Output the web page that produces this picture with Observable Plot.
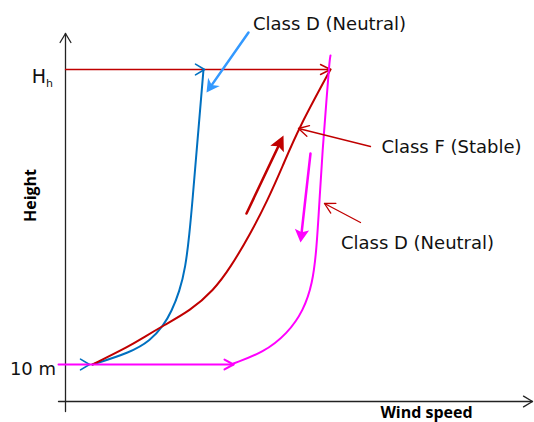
<!DOCTYPE html>
<html>
<head>
<meta charset="utf-8">
<script src="https://cdn.jsdelivr.net/npm/d3@7"></script>
<script src="https://cdn.jsdelivr.net/npm/@observablehq/plot@0.6"></script>
<style>
  html, body { margin: 0; padding: 0; background: #fff; }
  #chart { width: 534px; height: 422px; }
</style>
</head>
<body>
<div id="chart"></div>
<script>
// ---------------- DATA (wind speed / height in schematic units, origin at the axes' corner) ----------------
const H_HUB = 332;          // hub height level "H_h"
const H_10 = 37;            // 10 m reference level

// Class D (Neutral) profile, blue
const blueWind   = [27, 27, 65, 85, 98, 106, 114, 120, 124, 127, 132, 138, 138];
const blueHeight = [37, 37, 49, 61, 76, 90, 110, 134, 168, 201, 261, 332, 332];

// Class F (Stable) profile, dark red
const redWind   = [27, 27, 65, 78, 98, 125, 148, 165, 185, 202, 217, 233, 265, 265];
const redHeight = [37, 37, 56, 64, 76, 91, 111, 134, 168, 201, 235, 273, 332, 332];

// Class D (Neutral) profile, magenta
const magWind   = [168, 168, 198, 222, 238, 247, 251, 254, 257, 261, 264, 265, 265];
const magHeight = [38, 38, 49, 68, 91, 118, 151, 201, 251, 301, 341, 346, 346];

// Arrows: [x1, y1, x2, y2]
const axisArrows      = [[0, -10, 0, 368], [-7, 0, 467, 0]];
const hubLineArrow    = [[0, H_HUB, 265, H_HUB]];
const tenLineArrow    = [[-7, H_10, 168, H_10]];
const blueLevelHeads  = [[124, H_HUB, 139, H_HUB], [9, H_10, 24, H_10]];
const redTrendArrow   = [[181, 188, 218, 266]];
const magTrendArrow   = [[245, 248, 235, 159]];
const blueNoteArrow   = [[183, 369, 141, 309]];
const redNoteArrows   = [[305, 255, 233, 273], [295, 179, 259, 198]];

// Texts
const noteLabels = ["Class D (Neutral)", "Class F (Stable)", "Class D (Neutral)"];
const noteX = [264, 386, 352];
const noteY = [377, 254, 158];
const levelLabels = ["H", "h", "10 m"];
const axisLabels = ["Wind speed", "Height"];

// ---------------- HELPERS ----------------
const zip = (xs, ys) => xs.map((x, i) => ({x, y: ys[i]}));
const toSeg = a => a.map(([x1, y1, x2, y2]) => ({x1, y1, x2, y2}));
const angle = d => Math.atan2(d.x2 - d.x1, d.y2 - d.y1) * 180 / Math.PI;
const unit = d => { const dx = d.x2 - d.x1, dy = d.y2 - d.y1, n = Math.hypot(dx, dy); return [dx / n, dy / n]; };

const chevron = ratio => ({
  draw(ctx, size) {
    const L = Math.sqrt(size / Math.PI), W = L * ratio;
    ctx.moveTo(-W, L); ctx.lineTo(0, 0); ctx.lineTo(W, L);
  }
});
const stealth = (ratio, notch) => ({
  draw(ctx, size) {
    const L = Math.sqrt(size / Math.PI), W = L * ratio;
    ctx.moveTo(0, 0); ctx.lineTo(W, L); ctx.lineTo(0, L * notch); ctx.lineTo(-W, L); ctx.closePath();
  }
});

function arrowMarks(segs, {stroke, strokeWidth, length, ratio = 0.5, filled = false, shaft = true, notch = 0.75}) {
  const data = toSeg(segs);
  const marks = [];
  if (shaft) {
    const cut = filled ? length * 0.6 : 0;
    marks.push(Plot.link(data, {
      x1: "x1", y1: "y1",
      x2: d => d.x2 - unit(d)[0] * cut,
      y2: d => d.y2 - unit(d)[1] * cut,
      stroke, strokeWidth, strokeLinecap: "round"
    }));
  }
  marks.push(Plot.dot(data, {
    x: "x2", y: "y2", r: length, rotate: angle,
    symbol: filled ? stealth(ratio, notch) : chevron(ratio),
    fill: filled ? stroke : "none",
    stroke: filled ? "none" : stroke,
    strokeWidth: filled ? 0 : strokeWidth,
    strokeLinejoin: "round", strokeLinecap: "round"
  }));
  return marks;
}

const RED = "#c00000", BLUE = "#0070c0", LIGHTBLUE = "#3399ff", MAG = "#ff00ff", AXIS = "#222";
const NOTE_FONT = "DejaVu Sans";
const BOLD_FONT = "Open Sans";

const chart = Plot.plot({
  width: 534,
  height: 422,
  margin: 0,
  x: {domain: [-65, 469], axis: null},
  y: {domain: [-21, 401], axis: null},
  style: {background: "white", overflow: "visible"},
  marks: [
    // axes
    ...arrowMarks(axisArrows, {stroke: AXIS, strokeWidth: 1.3, length: 9, ratio: 0.6}),
    // level lines
    ...arrowMarks(hubLineArrow, {stroke: RED, strokeWidth: 1.4, length: 10, ratio: 0.5}),
    ...arrowMarks(blueLevelHeads, {stroke: BLUE, strokeWidth: 1.6, length: 9, ratio: 0.6, shaft: false}),
    // profiles
    Plot.line(zip(blueWind, blueHeight), {x: "x", y: "y", stroke: BLUE, strokeWidth: 2, curve: "basis"}),
    Plot.line(zip(redWind, redHeight), {x: "x", y: "y", stroke: RED, strokeWidth: 2, curve: "basis"}),
    Plot.line(zip(magWind, magHeight), {x: "x", y: "y", stroke: MAG, strokeWidth: 2, curve: "basis"}),
    ...arrowMarks(tenLineArrow, {stroke: MAG, strokeWidth: 2, length: 9, ratio: 0.55}),
    // trend arrows
    ...arrowMarks(redTrendArrow, {stroke: RED, strokeWidth: 2.5, length: 15, ratio: 0.5, filled: true, notch: 0.8}),
    ...arrowMarks(magTrendArrow, {stroke: MAG, strokeWidth: 2.5, length: 13, ratio: 0.55, filled: true, notch: 0.8}),
    // annotation arrows
    ...arrowMarks(blueNoteArrow, {stroke: LIGHTBLUE, strokeWidth: 2.5, length: 13, ratio: 0.55, filled: true, notch: 0.7}),
    ...arrowMarks(redNoteArrows, {stroke: RED, strokeWidth: 1.3, length: 10, ratio: 0.55}),
    // annotation texts
    Plot.text(noteLabels, {x: (d, i) => noteX[i], y: (d, i) => noteY[i], text: d => d,
      fontFamily: NOTE_FONT, fontSize: 18, fill: "#111"}),
    // level labels
    Plot.text([levelLabels[0]], {x: [-26.5], y: [325], text: d => d, fontFamily: NOTE_FONT, fontSize: 19, fill: "#111"}),
    Plot.text([levelLabels[1]], {x: [-16], y: [318.5], text: d => d, fontFamily: NOTE_FONT, fontSize: 11, fill: "#111"}),
    Plot.text([levelLabels[2]], {x: [-32.5], y: [32], text: d => d, fontFamily: NOTE_FONT, fontSize: 18, fill: "#111"}),
    // axis labels
    Plot.text([axisLabels[0]], {x: [361], y: [-11], text: d => d, fontFamily: BOLD_FONT, fontWeight: "bold", fontSize: 16, fill: "#000"}),
    Plot.text([axisLabels[1]], {x: [-35], y: [206], text: d => d, rotate: -90, fontFamily: BOLD_FONT, fontWeight: "bold", fontSize: 16, fill: "#000"})
  ]
});
document.getElementById("chart").append(chart);
</script>
</body>
</html>
